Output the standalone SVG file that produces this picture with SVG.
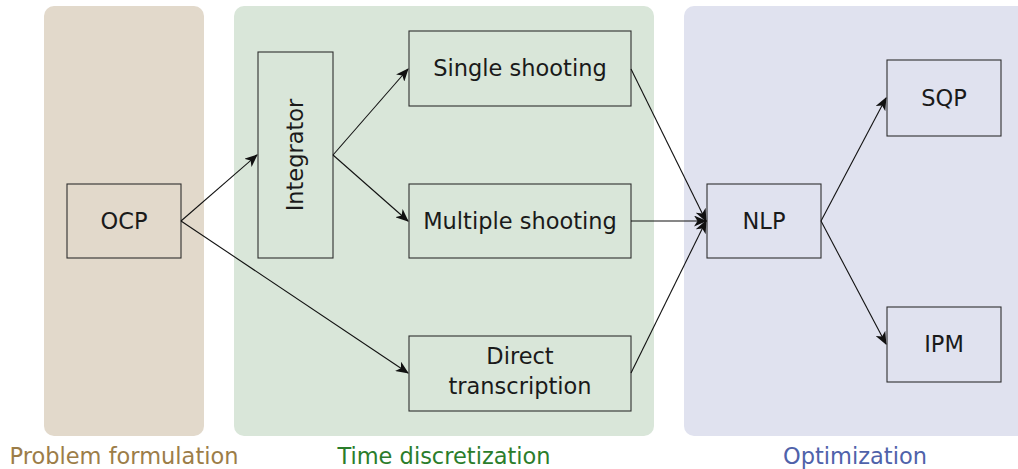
<svg xmlns="http://www.w3.org/2000/svg" width="1018" height="469" viewBox="0 0 1018 469">
  <style>
    .panel { stroke: none; }
    .box { fill: none; stroke: #2f2f2f; stroke-width: 1.1; }
    .lbl { font-family: "DejaVu Sans", "Liberation Sans", sans-serif; font-size: 22.5px; fill: #1a1a1a; text-anchor: middle; }
    .cap { font-family: "DejaVu Sans", "Liberation Sans", sans-serif; font-size: 22.5px; text-anchor: middle; }
    .edge { fill: none; stroke: #111; stroke-width: 1.1; marker-end: url(#stealth); }
  </style>
  <defs>
    <marker id="stealth" viewBox="0 0 13 11" refX="12" refY="5.5" markerWidth="13" markerHeight="11" markerUnits="userSpaceOnUse" orient="auto">
      <path d="M0,0 L13,5.5 L0,11 L3.5,5.5 Z" fill="#111"/>
    </marker>
  </defs>

  <!-- stage panels -->
  <g id="panels">
    <rect class="panel" x="44" y="6" width="160" height="430" rx="10" fill="#e2d9cb"/>
    <rect class="panel" x="234" y="6" width="420" height="430" rx="10" fill="#d9e6d9"/>
    <rect class="panel" x="684" y="6" width="350" height="430" rx="10" fill="#e0e2ef"/>
  </g>

  <!-- stage captions -->
  <g id="captions">
    <text class="cap" x="124" y="464" fill="#9c7d48">Problem formulation</text>
    <text class="cap" x="444" y="464" fill="#2b7d2b">Time discretization</text>
    <text class="cap" x="855" y="464" fill="#4f62aa">Optimization</text>
  </g>

  <g id="ocp">
    <rect class="box" x="67" y="184" width="114" height="74"/>
    <text class="lbl" x="124" y="229">OCP</text>
  </g>
  <g id="integrator">
    <rect class="box" x="258" y="52" width="75" height="206"/>
    <text class="lbl" transform="translate(303,155) rotate(-90)" x="0" y="0">Integrator</text>
  </g>
  <g id="single">
    <rect class="box" x="409" y="31" width="222" height="75"/>
    <text class="lbl" x="520" y="76">Single shooting</text>
  </g>
  <g id="multiple">
    <rect class="box" x="409" y="184" width="222" height="74"/>
    <text class="lbl" x="520" y="229">Multiple shooting</text>
  </g>
  <g id="direct">
    <rect class="box" x="409" y="336" width="222" height="75"/>
    <text class="lbl" x="520" y="364">Direct</text>
    <text class="lbl" x="520" y="394">transcription</text>
  </g>
  <g id="nlp">
    <rect class="box" x="707" y="184" width="114" height="74"/>
    <text class="lbl" x="764" y="229">NLP</text>
  </g>
  <g id="sqp">
    <rect class="box" x="887" y="60" width="114" height="76"/>
    <text class="lbl" x="944" y="106">SQP</text>
  </g>
  <g id="ipm">
    <rect class="box" x="887" y="307" width="114" height="75"/>
    <text class="lbl" x="944" y="352">IPM</text>
  </g>

  <!-- connectors -->
  <g id="connectors">
    <line class="edge" x1="181" y1="221" x2="257" y2="155"/>
    <line class="edge" x1="181" y1="221" x2="408" y2="373"/>
    <line class="edge" x1="333" y1="155" x2="408" y2="69"/>
    <line class="edge" x1="333" y1="155" x2="408" y2="221"/>
    <line class="edge" x1="631" y1="69" x2="706" y2="221"/>
    <line class="edge" x1="631" y1="221" x2="706" y2="221"/>
    <line class="edge" x1="631" y1="373" x2="706" y2="221"/>
    <line class="edge" x1="821" y1="221" x2="886" y2="98"/>
    <line class="edge" x1="821" y1="221" x2="886" y2="344"/>
  </g>
</svg>
